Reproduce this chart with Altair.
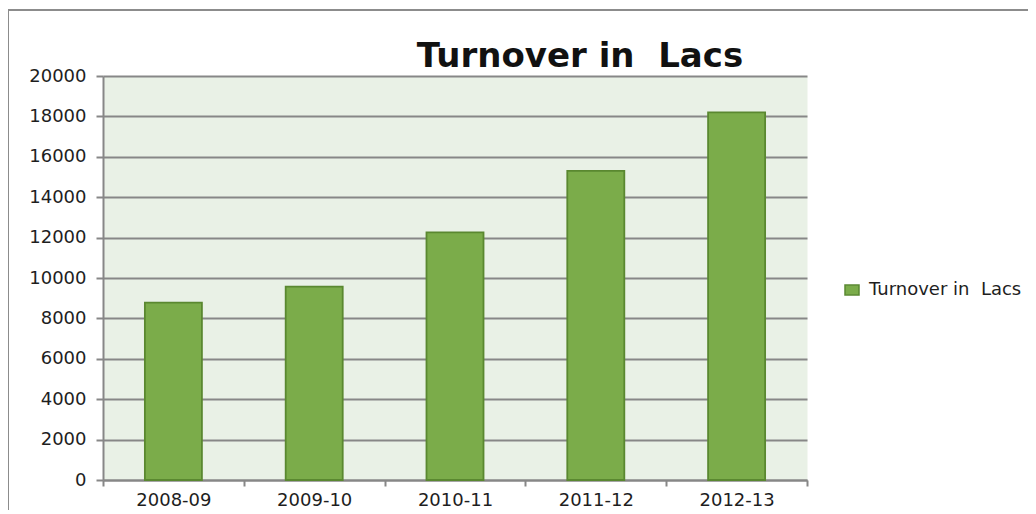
import altair as alt
import pandas as pd

# ---- data ----
years = ["2008-09", "2009-10", "2010-11", "2011-12", "2012-13"]
turnover = [8780, 9570, 12260, 15300, 18200]
series_name = "Turnover in\u00a0 Lacs"
y_ticks = [0, 2000, 4000, 6000, 8000, 10000, 12000, 14000, 16000, 18000, 20000]

df = pd.DataFrame({"year": years, "turnover": turnover, "series": [series_name] * len(years)})

BAR_FILL = "#7BAC4A"
BAR_STROKE = "#5A8830"
GRID = "#878787"
TEXT = "#1E1E1E"
FONT = "DejaVu Sans"

bars = alt.Chart(df).mark_bar(
    width=alt.RelativeBandSize(0.405),
    stroke=BAR_STROKE,
    strokeWidth=1.8,
).encode(
    x=alt.X(
        "year:N",
        sort=years,
        scale=alt.Scale(paddingInner=0, paddingOuter=0),
        axis=alt.Axis(
            title=None,
            labelAngle=0,
            tickBand="extent",
            ticks=True,
            tickSize=6,
            tickColor=GRID,
            tickWidth=2,
            domainColor=GRID,
            domainWidth=2,
            labelFont=FONT,
            labelFontSize=18,
            labelColor=TEXT,
            labelPadding=5,
            grid=False,
        ),
    ),
    y=alt.Y(
        "turnover:Q",
        scale=alt.Scale(domain=[0, 20000], nice=False),
        axis=alt.Axis(
            title=None,
            values=y_ticks,
            format="d",
            grid=True,
            gridColor=GRID,
            gridWidth=2,
            domainColor=GRID,
            domainWidth=2,
            tickColor=GRID,
            tickWidth=2,
            tickSize=7,
            labelFont=FONT,
            labelFontSize=18,
            labelColor=TEXT,
            labelPadding=10,
        ),
    ),
    color=alt.Color(
        "series:N",
        scale=alt.Scale(domain=[series_name], range=[BAR_FILL]),
        legend=alt.Legend(
            title=None,
            orient="none",
            legendX=740,
            legendY=205,
            padding=0,
            symbolType="M-1,-0.7H1V0.7H-1Z",
            symbolSize=196,
            symbolStrokeColor=BAR_STROKE,
            symbolStrokeWidth=1.5,
            symbolFillColor=BAR_FILL,
            labelFont=FONT,
            labelFontSize=18,
            labelColor=TEXT,
            labelOffset=8,
        ),
    ),
)

frame_df = pd.DataFrame({"k": [0]})
frame_top = alt.Chart(frame_df).mark_rule(color="#8C8C8C", strokeWidth=2).encode(
    x=alt.value(-95), x2=alt.value(930), y=alt.value(-66)
)
frame_left = alt.Chart(frame_df).mark_rule(color="#8C8C8C", strokeWidth=2).encode(
    x=alt.value(-95), y=alt.value(-67), y2=alt.value(440)
)

chart = alt.layer(bars, frame_top, frame_left).properties(
    width=704,
    height=404,
    autosize=alt.AutoSizeParams(type="none"),
    padding={"left": 95, "top": 68, "right": 221, "bottom": 30},
    view=alt.ViewBackground(fill="#E9F1E6", stroke="transparent"),
    title=alt.TitleParams(
        text="Turnover in\u00a0 Lacs",
        font=FONT,
        fontSize=34,
        fontWeight="bold",
        color="#111111",
        anchor="middle",
        dx=125,
        dy=66,
        offset=0,
    ),
).configure_view(
    fill="#E9F1E6",
    stroke="transparent",
).configure(background="white")

chart.save("out.html", embed_options={"renderer": "svg", "actions": False})
